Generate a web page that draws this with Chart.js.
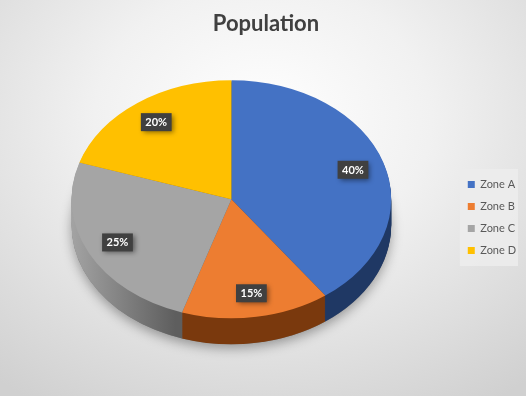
<!DOCTYPE html>
<html lang="en">
<head>
<meta charset="UTF-8">
<title>Population</title>
<script src="https://cdn.jsdelivr.net/npm/chart.js"></script>
<style>
  html, body { margin: 0; padding: 0; }
  body { width: 526px; height: 396px; overflow: hidden; }
  #grafico_pizza {
    display: block;
    background: radial-gradient(ellipse 80% 85% at 50% 30%, #ffffff 0%, #f1f1f1 40%, #d0d0d0 100%);
  }
</style>
</head>
<body>
<canvas id="grafico_pizza" width="526" height="396"></canvas>
<script>
var zones = ['Zone A', 'Zone B', 'Zone C', 'Zone D'];
var population = [40, 15, 25, 20];

var colors = ['#4472C4', '#ED7D31', '#A5A5A5', '#FFC000'];
// side wall shades (left -> right)
var sideLight = ['#2c4a86', '#8d4412', '#a3a3a3', '#c09000'];
var sideDark = ['#1f3864', '#7a390d', '#5e5e5e', '#9f7800'];

var tilt = 0.745;   // vertical squash of the pie
var depth = 26;     // thickness of the pie
var legendShift = 38;

var font = 'Lato, "Open Sans", sans-serif';

var pie3d = {
    id: 'pie3d',
    afterUpdate(chart) {
        // legend sits a bit lower in the original
        var lg = chart.legend;
        lg.top += legendShift;
        lg.bottom += legendShift;
        lg.legendHitBoxes.forEach(function (hb) { hb.top += legendShift; });
    },
    beforeDraw(chart) {
        var ctx = chart.ctx;
        var hbs = chart.legend.legendHitBoxes;
        var x0 = Math.min.apply(null, hbs.map(h => h.left)) - 8;
        var x1 = Math.max.apply(null, hbs.map(h => h.left + h.width)) + 2;
        var y0 = Math.min.apply(null, hbs.map(h => h.top)) - 10;
        var y1 = Math.max.apply(null, hbs.map(h => h.top + h.height)) + 10;
        ctx.save();
        ctx.fillStyle = 'rgba(236,236,236,0.9)';
        ctx.fillRect(x0, y0, x1 - x0, y1 - y0);
        ctx.restore();
    },
    beforeDatasetsDraw(chart) {
        var ctx = chart.ctx;
        var arcs = chart.getDatasetMeta(0).data;
        var cx = arcs[0].x, cy = arcs[0].y, r = arcs[0].outerRadius;

        // soft shadow under the pie
        ctx.save();
        ctx.translate(cx, cy + depth);
        ctx.scale(1, tilt);
        ctx.shadowColor = 'rgba(0,0,0,0.35)';
        ctx.shadowBlur = 12;
        ctx.shadowOffsetY = 4;
        ctx.beginPath();
        ctx.arc(0, 0, r, 0, Math.PI * 2);
        ctx.fillStyle = '#777';
        ctx.fill();
        ctx.restore();

        for (var d = depth; d >= 1; d--) {
            ctx.save();
            ctx.translate(cx, cy + d);
            ctx.scale(1, tilt);
            arcs.forEach(function (arc, i) {
                var g = ctx.createLinearGradient(-r, 0, -r * 0.35, 0);
                g.addColorStop(0, sideLight[i]);
                g.addColorStop(1, sideDark[i]);
                ctx.beginPath();
                ctx.moveTo(0, 0);
                ctx.arc(0, 0, arc.outerRadius, arc.startAngle, arc.endAngle);
                ctx.closePath();
                ctx.fillStyle = g;
                ctx.fill();
            });
            ctx.restore();
        }

        ctx.save();
        ctx.translate(cx, cy);
        ctx.scale(1, tilt);
        ctx.translate(-cx, -cy);
    },
    afterDatasetsDraw(chart) {
        var ctx = chart.ctx;
        ctx.restore();

        var arcs = chart.getDatasetMeta(0).data;
        var total = population.reduce((a, b) => a + b, 0);
        arcs.forEach(function (arc, i) {
            var mid = (arc.startAngle + arc.endAngle) / 2;
            var rr = arc.outerRadius * 0.8;
            var x = arc.x + Math.cos(mid) * rr;
            var y = arc.y + Math.sin(mid) * rr * tilt;
            var txt = Math.round(population[i] / total * 100) + '%';

            ctx.save();
            ctx.font = 'bold 11px ' + font;
            var w = ctx.measureText(txt).width + 9, h = 18;
            ctx.shadowColor = 'rgba(0,0,0,0.45)';
            ctx.shadowBlur = 5;
            ctx.shadowOffsetX = 2;
            ctx.shadowOffsetY = 2;
            ctx.fillStyle = '#404040';
            ctx.fillRect(x - w / 2, y - h / 2, w, h);
            ctx.restore();

            ctx.save();
            ctx.font = 'bold 11px ' + font;
            ctx.fillStyle = '#ffffff';
            ctx.textAlign = 'center';
            ctx.textBaseline = 'middle';
            ctx.fillText(txt, x, y + 0.5);
            ctx.restore();
        });
    }
};

var canvas = document.getElementById('grafico_pizza');
var ctx = canvas.getContext('2d');

window.grafico_pizza = new Chart(ctx, {
    type: 'pie',
    data: {
        labels: zones,
        datasets: [{
            label: 'Population',
            data: population,
            backgroundColor: colors,
            borderWidth: 0
        }]
    },
    options: {
        responsive: false,
        animation: false,
        layout: { padding: { top: 0, bottom: 37, left: 6, right: 0 } },
        plugins: {
            title: {
                display: true,
                text: 'Population',
                color: '#404040',
                font: { family: font, size: 22, weight: 'bold' },
                padding: { top: 11, bottom: 2 }
            },
            legend: {
                position: 'right',
                labels: {
                    boxWidth: 7,
                    boxHeight: 7,
                    padding: 11,
                    color: '#595959',
                    font: { family: font, size: 11 }
                }
            },
            tooltip: { enabled: false }
        }
    },
    plugins: [pie3d]
});
</script>
</body>
</html>
